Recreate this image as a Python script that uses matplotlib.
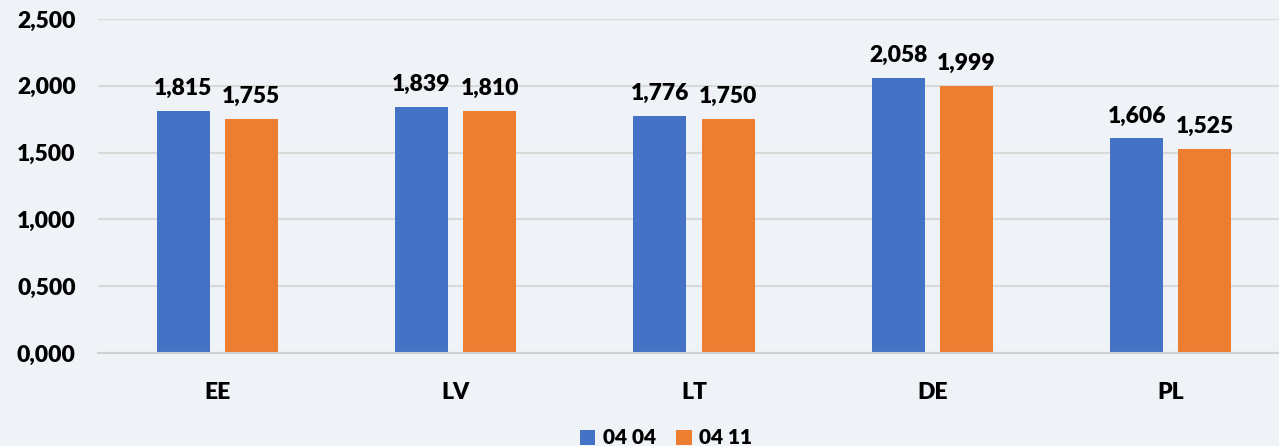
import numpy as np
import matplotlib.pyplot as plt

plt.rcParams.update({
    "font.family": ["Lato", "DejaVu Sans"],
    "font.weight": "heavy",
    "font.size": 16.5,
})

categories = ["EE", "LV", "LT", "DE", "PL"]
series_names = ["04 04", "04 11"]
vals_0404 = [1.815, 1.839, 1.776, 2.058, 1.606]
vals_0411 = [1.755, 1.810, 1.750, 1.999, 1.525]
colors = ["#4472C4", "#ED7D31"]
bg = "#EFF2F6"


def fmt(v):
    return f"{v:,.3f}".replace(".", ",")


fig = plt.figure(figsize=(12.79, 4.46), dpi=100, facecolor=bg)
ax = fig.add_axes([98 / 1279, 93 / 446, 1192 / 1279, 334 / 446], facecolor=bg)

x = np.arange(len(categories))
w = 0.222
off = 0.143
for i, (vals, name) in enumerate([(vals_0404, series_names[0]), (vals_0411, series_names[1])]):
    pos = x + (-off if i == 0 else off)
    bars = ax.bar(pos, vals, width=w, color=colors[i], label=name, zorder=3)
    for b, v in zip(bars, vals):
        ax.text(b.get_x() + b.get_width() / 2, v + 0.09, fmt(v),
                ha="center", va="bottom", fontsize=16.5, fontweight="heavy")

ax.set_xlim(-0.5, len(categories) - 0.5)
ax.set_ylim(0, 2.5)
ax.set_yticks(np.arange(0, 2.501, 0.5))
ax.set_yticklabels([fmt(v) for v in np.arange(0, 2.501, 0.5)])
ax.set_xticks(x)
ax.set_xticklabels(categories)
ax.tick_params(axis="both", length=0)
ax.tick_params(axis="y", pad=16)
ax.tick_params(axis="x", pad=21)
ax.grid(axis="y", color="#D9D9D9", linewidth=1.5, zorder=0)
for s in ["left", "right", "top"]:
    ax.spines[s].set_visible(False)
ax.spines["bottom"].set_color("#D0D0D0")
ax.spines["bottom"].set_linewidth(1.5)
ax.spines["bottom"].set_zorder(4)

fig.legend(loc="center", bbox_to_anchor=(666 / 1279, 1 - 438 / 446), ncol=2,
           frameon=False, handlelength=0.75, handleheight=0.75, handletextpad=0.35,
           columnspacing=1.0, fontsize=15)

fig.savefig("out.png", dpi=100, facecolor=bg)
